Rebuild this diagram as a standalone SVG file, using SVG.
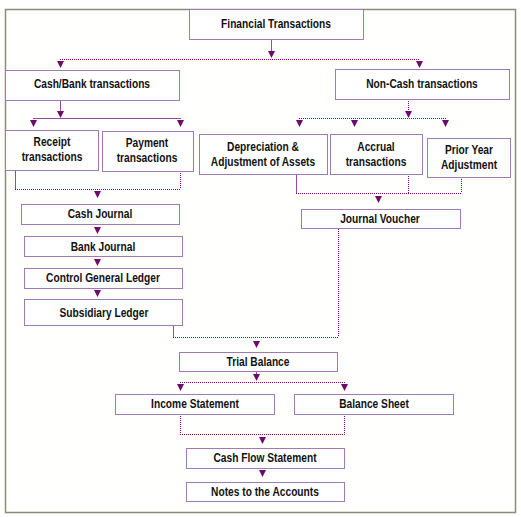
<svg xmlns="http://www.w3.org/2000/svg" width="521" height="517" viewBox="0 0 521 517">
<style>
.box{fill:#fff;stroke:#a279b0;stroke-width:1}
.t{font-family:"Liberation Sans",Arial,sans-serif;font-weight:bold;font-size:12px;fill:#111;text-anchor:middle}
.s{fill:none;stroke:#9a4a9a;stroke-width:1}
.d{fill:none;stroke:#800080;stroke-width:1;stroke-dasharray:1,1}
.a{fill:#6e0a6e}
</style>
<rect x="0" y="0" width="521" height="517" fill="#fff"/>
<rect x="5.5" y="9.5" width="510" height="503" fill="#fffffd" stroke="#8c8c7a" stroke-width="1.5"/>
<g id="connectors">
<path class="s" d="M271.5 39V52"/>
<path class="d" d="M60 59.5H420"/>
<path class="s" d="M60.5 100V112"/>
<path class="s" d="M33 118.5H181"/>
<path class="d" d="M408.5 99V112"/>
<path class="d" d="M299 118.5H446"/>
<path class="s" d="M15.5 170V189"/>
<path class="d" d="M180.5 171V189"/>
<path class="d" d="M15 189.5H181"/>
<path class="s" d="M296.5 174V193"/>
<path class="d" d="M408.5 174V193"/>
<path class="d" d="M461.5 177V193"/>
<path class="d" d="M296 193.5H462"/>
<path class="s" d="M173.5 318V337"/>
<path class="d" d="M173 337.5H339"/>
<path class="d" d="M338.5 229V337"/>
<path class="s" d="M256.5 371V376"/>
<path class="d" d="M180 382.5H345"/>
<path class="d" d="M180.5 414V434"/>
<path class="d" d="M344.5 414V434"/>
<path class="d" d="M180 434.5H345"/>
<g class="a">
<path d="M268 51H275L271.5 58Z"/>
<path d="M57 61H64L60.5 68Z"/>
<path d="M416 61H423L419.5 68Z"/>
<path d="M57 111H64L60.5 118Z"/>
<path d="M30 120H37L33.5 127Z"/>
<path d="M177 120H184L180.5 127Z"/>
<path d="M405 111H412L408.5 118Z"/>
<path d="M296 120H303L299.5 127Z"/>
<path d="M351 120H358L354.5 127Z"/>
<path d="M442 120H449L445.5 127Z"/>
<path d="M94 191H101L97.5 198Z"/>
<path d="M375 196H382L378.5 203Z"/>
<path d="M94 227H101L97.5 234Z"/>
<path d="M94 259H101L97.5 266Z"/>
<path d="M94 290H101L97.5 297Z"/>
<path d="M253 341H260L256.5 348Z"/>
<path d="M253 374H260L256.5 381Z"/>
<path d="M177 384H184L180.5 391Z"/>
<path d="M341 384H348L344.5 391Z"/>
<path d="M259 437H266L262.5 444Z"/>
<path d="M259 470H266L262.5 477Z"/>
</g>
</g>
<g id="financial"><rect class="box" x="189.5" y="9.5" width="174" height="30"/><text class="t" transform="translate(276 28) scale(0.85 1)">Financial Transactions</text></g>
<g id="cashbank"><rect class="box" x="5.5" y="70.5" width="174" height="30"/><text class="t" transform="translate(92 88) scale(0.85 1)">Cash/Bank transactions</text></g>
<g id="noncash"><rect class="box" x="335.5" y="69.5" width="174" height="30"/><text class="t" transform="translate(422 88) scale(0.85 1)">Non-Cash transactions</text></g>
<g id="receipt"><rect class="box" x="5.5" y="130.5" width="93" height="40"/><text class="t" transform="translate(52 146) scale(0.85 1)">Receipt</text><text class="t" transform="translate(52 161) scale(0.85 1)">transactions</text></g>
<g id="payment"><rect class="box" x="102.5" y="131.5" width="91" height="40"/><text class="t" transform="translate(147 147) scale(0.85 1)">Payment</text><text class="t" transform="translate(147 162) scale(0.85 1)">transactions</text></g>
<g id="depreciation"><rect class="box" x="199.5" y="134.5" width="128" height="40"/><text class="t" transform="translate(263 151) scale(0.85 1)">Depreciation &amp;</text><text class="t" transform="translate(263 166) scale(0.85 1)">Adjustment of Assets</text></g>
<g id="accrual"><rect class="box" x="330.5" y="134.5" width="92" height="40"/><text class="t" transform="translate(376 151) scale(0.85 1)">Accrual</text><text class="t" transform="translate(376 166) scale(0.85 1)">transactions</text></g>
<g id="prioryear"><rect class="box" x="427.5" y="138.5" width="83" height="39"/><text class="t" transform="translate(469 154) scale(0.85 1)">Prior Year</text><text class="t" transform="translate(469 169) scale(0.85 1)">Adjustment</text></g>
<g id="cashjournal"><rect class="box" x="21.5" y="204.5" width="158" height="20"/><text class="t" transform="translate(100 218) scale(0.85 1)">Cash Journal</text></g>
<g id="journalvoucher"><rect class="box" x="301.5" y="209.5" width="159" height="19"/><text class="t" transform="translate(380 223) scale(0.85 1)">Journal Voucher</text></g>
<g id="bankjournal"><rect class="box" x="24.5" y="236.5" width="158" height="20"/><text class="t" transform="translate(103 251) scale(0.85 1)">Bank Journal</text></g>
<g id="controlledger"><rect class="box" x="24.5" y="268.5" width="158" height="20"/><text class="t" transform="translate(103 282) scale(0.85 1)">Control General Ledger</text></g>
<g id="subsidiary"><rect class="box" x="24.5" y="299.5" width="158" height="26"/><text class="t" transform="translate(104 317) scale(0.85 1)">Subsidiary Ledger</text></g>
<g id="trialbalance"><rect class="box" x="179.5" y="352.5" width="158" height="19"/><text class="t" transform="translate(258 366) scale(0.85 1)">Trial Balance</text></g>
<g id="income"><rect class="box" x="115.5" y="394.5" width="159" height="20"/><text class="t" transform="translate(195 408) scale(0.85 1)">Income Statement</text></g>
<g id="balancesheet"><rect class="box" x="294.5" y="394.5" width="159" height="20"/><text class="t" transform="translate(374 408) scale(0.85 1)">Balance Sheet</text></g>
<g id="cashflow"><rect class="box" x="186.5" y="448.5" width="158" height="20"/><text class="t" transform="translate(265 462) scale(0.85 1)">Cash Flow Statement</text></g>
<g id="notes"><rect class="box" x="186.5" y="482.5" width="158" height="19"/><text class="t" transform="translate(265 496) scale(0.85 1)">Notes to the Accounts</text></g>
</svg>
